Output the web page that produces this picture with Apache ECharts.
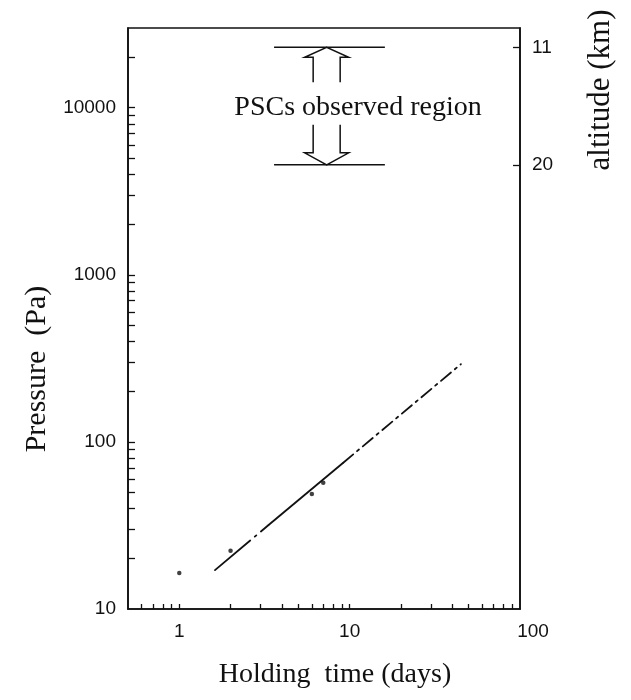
<!DOCTYPE html>
<html>
<head>
<meta charset="utf-8">
<script src="https://cdn.jsdelivr.net/npm/echarts@6/dist/echarts.min.js"></script>
<style>
  html, body { margin: 0; padding: 0; background: #fff; }
  #chart { width: 631px; height: 700px; }
</style>
</head>
<body>
<div id="chart"></div>
<script>
// Holding time versus pressure, log–log, with the altitude scale on the right.

// Axis ticks and labels
const xLabelValues = [1, 10, 100];
const xTickValues = [0.6, 0.7, 0.8, 0.9, 1, 2, 3, 4, 5, 6, 7, 8, 9, 10,
                     20, 30, 40, 50, 60, 70, 80, 90];
const yLabelValues = [10, 100, 1000, 10000];
const yTickValues = [20, 30, 40, 50, 60, 70, 80, 90,
                     100, 200, 300, 400, 500, 600, 700, 800, 900,
                     1000, 2000, 3000, 4000, 5000, 6000, 7000, 8000, 9000,
                     10000, 20000];

// Altitude scale (km) and the pressure level each sits at (Pa)
const altitudeKm = [11, 20];
const altitudePa = [23000, 4550];

// Fitted holding-time line: dash-dot, solid, dash-dot pieces
const fitDays = [1.62, 3.33, 9.17, 45];
const fitPa = [17.1, 31.7, 75.1, 292];

// Individual estimates
const pointDays = [1, 2, 6, 7];
const pointPa = [16.4, 22.3, 48.8, 57];

// PSC observed band
const pscBandDays = [3.6, 16.1];
const pscArrowDays = 7.33;
const pscLabel = 'PSCs observed region';
const pscLabelDays = 11.2;
const pscLabelPa = 10000;

const INK = '#111';
const SANS = '"Liberation Sans", Arial, sans-serif';
const SERIF = '"Liberation Serif", "Times New Roman", serif';

function piece(i) {
  return [[fitDays[i], fitPa[i]], [fitDays[i + 1], fitPa[i + 1]]];
}

function altitudeFor(v) {
  let best = 0;
  for (let i = 1; i < altitudePa.length; i++) {
    if (Math.abs(Math.log(altitudePa[i] / v)) < Math.abs(Math.log(altitudePa[best] / v))) best = i;
  }
  return String(altitudeKm[best]);
}

const chart = echarts.init(document.getElementById('chart'), null, { renderer: 'canvas' });

const option = {
  animation: false,
  backgroundColor: '#fff',
  grid: {
    left: 128, right: 111, top: 28, bottom: 91,
    show: true, borderColor: INK, borderWidth: 1.6, backgroundColor: 'transparent'
  },
  xAxis: {
    type: 'log', logBase: 10, min: 0.5, max: 100,
    axisLine: { show: true, lineStyle: { color: INK, width: 1.6 } },
    axisTick: { show: true, inside: true, length: 5, customValues: xTickValues,
                lineStyle: { color: INK, width: 1.3 } },
    axisLabel: {
      customValues: xLabelValues, margin: 13, color: INK, fontSize: 19, fontFamily: SANS,
      formatter: v => (Math.abs(v - 100) < 1e-6 ? '{r|100}' : String(Math.round(v))),
      rich: { r: { padding: [0, 0, 0, 26], fontSize: 19, fontFamily: SANS, color: INK } }
    },
    splitLine: { show: false },
    minorTick: { show: false }
  },
  yAxis: [
    {
      type: 'log', logBase: 10, min: 10, max: 30000, position: 'left',
      axisLine: { show: true, lineStyle: { color: INK, width: 1.6 } },
      axisTick: { show: true, inside: true, length: 7, customValues: yTickValues,
                  lineStyle: { color: INK, width: 1.3 } },
      axisLabel: { customValues: yLabelValues, margin: 12, color: INK, fontSize: 19,
                   fontFamily: SANS, formatter: v => String(Math.round(v)) },
      splitLine: { show: false }
    },
    {
      type: 'log', logBase: 10, min: 10, max: 30000, position: 'right',
      axisLine: { show: true, lineStyle: { color: INK, width: 1.6 } },
      axisTick: { show: true, inside: true, length: 7, customValues: altitudePa,
                  lineStyle: { color: INK, width: 1.3 } },
      axisLabel: { customValues: altitudePa, margin: 12, color: INK, fontSize: 19,
                   fontFamily: SANS, formatter: altitudeFor },
      splitLine: { show: false }
    }
  ],
  graphic: [
    { type: 'text', x: 37, y: 369, rotation: Math.PI / 2,
      style: { text: 'Pressure  (Pa)', font: '30px ' + SERIF, fill: INK,
               textAlign: 'center', textVerticalAlign: 'middle' } },
    { type: 'text', x: 335, y: 675,
      style: { text: 'Holding  time (days)', font: '28px ' + SERIF, fill: INK,
               textAlign: 'center', textVerticalAlign: 'middle' } },
    { type: 'text', x: 601, y: 90, rotation: Math.PI / 2,
      style: { text: 'altitude (km)', font: '31px ' + SERIF, fill: INK,
               textAlign: 'center', textVerticalAlign: 'middle' } }
  ],
  series: [
    {
      type: 'line', data: piece(0), showSymbol: false, symbol: 'none',
      lineStyle: { color: INK, width: 1.8, type: [46, 6, 2, 6], cap: 'round' }
    },
    {
      type: 'line', data: piece(1), showSymbol: false, symbol: 'none',
      lineStyle: { color: INK, width: 1.8, type: 'solid' }
    },
    {
      type: 'line', data: piece(2), showSymbol: false, symbol: 'none',
      lineStyle: { color: INK, width: 1.8, type: [13, 5, 2.5, 5], cap: 'round' }
    },
    {
      type: 'scatter', symbol: 'circle', symbolSize: 4.5,
      itemStyle: { color: INK },
      data: pointDays.map((d, i) => [d, pointPa[i]])
    },
    {
      type: 'custom',
      coordinateSystem: 'cartesian2d',
      encode: { x: [0, 1, 2], y: [3, 4] },
      data: [[pscBandDays[0], pscBandDays[1], pscArrowDays, altitudePa[0], altitudePa[1]]],
      renderItem: function (params, api) {
        const x0 = api.value(0), x1 = api.value(1), xc = api.value(2);
        const pTop = api.value(3), pBot = api.value(4);
        const a = api.coord([x0, pTop]), b = api.coord([x1, pTop]);
        const c = api.coord([x0, pBot]), d = api.coord([x1, pBot]);
        const tipT = api.coord([xc, pTop]), tipB = api.coord([xc, pBot]);
        const lab = api.coord([pscLabelDays, pscLabelPa]);
        const cx = tipT[0], ty = tipT[1], by = tipB[1];
        const sh = 13.5, hh = 22, head = 10;
        const stroke = { stroke: INK, lineWidth: 1.5, fill: null };
        return {
          type: 'group',
          children: [
            { type: 'line', shape: { x1: a[0], y1: a[1], x2: b[0], y2: b[1] }, style: stroke },
            { type: 'line', shape: { x1: c[0], y1: c[1], x2: d[0], y2: d[1] }, style: stroke },
            { type: 'polyline', shape: { points: [
                [cx - sh, ty + 35], [cx - sh, ty + head], [cx - hh, ty + head], [cx, ty],
                [cx + hh, ty + head], [cx + sh, ty + head], [cx + sh, ty + 35]] }, style: stroke },
            { type: 'polyline', shape: { points: [
                [cx - sh, by - 40], [cx - sh, by - head - 2], [cx - hh, by - head - 2], [cx, by],
                [cx + hh, by - head - 2], [cx + sh, by - head - 2], [cx + sh, by - 40]] }, style: stroke },
            { type: 'text', x: lab[0], y: lab[1],
              style: { text: pscLabel, font: '28px ' + SERIF, fill: INK,
                       textAlign: 'center', textVerticalAlign: 'middle' } }
          ]
        };
      }
    }
  ]
};

chart.setOption(option);
</script>
</body>
</html>
